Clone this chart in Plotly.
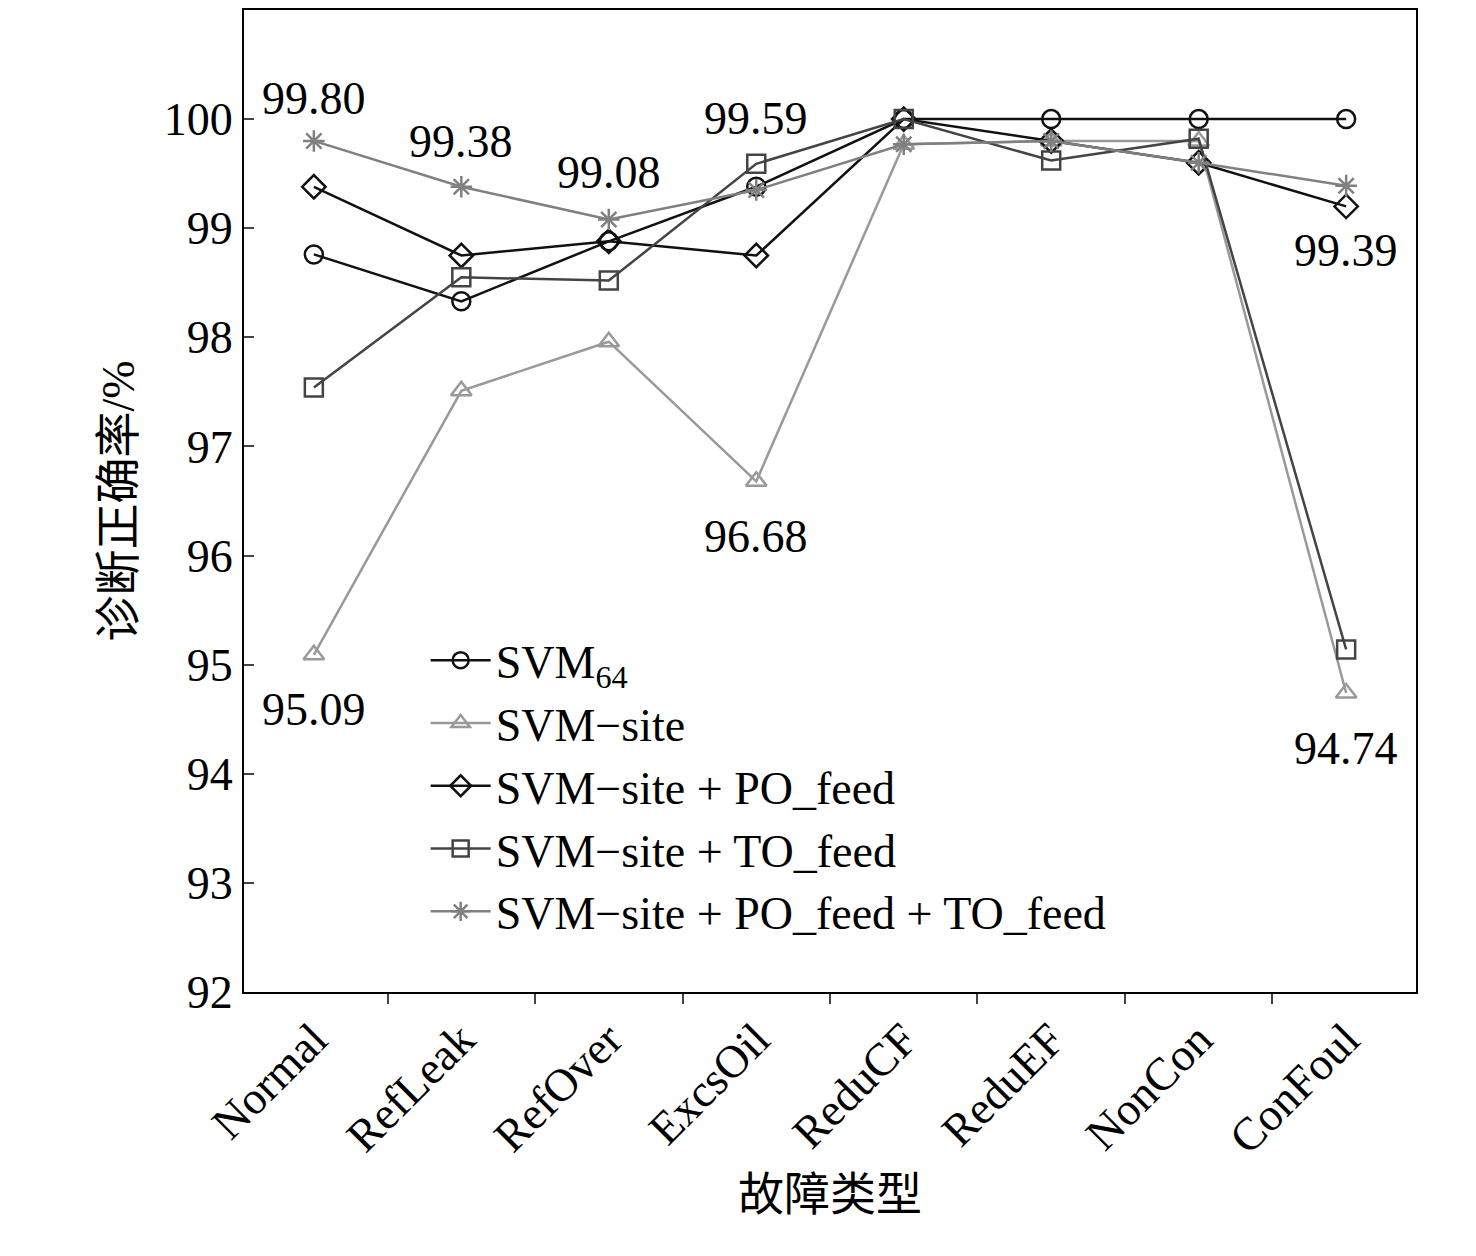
import plotly.graph_objects as go

categories = ["Normal", "RefLeak", "RefOver", "ExcsOil", "ReduCF", "ReduEF", "NonCon", "ConFoul"]
svm64 = [98.76, 98.33, 98.88, 99.38, 100, 100, 100, 100]
svm_site = [95.09, 97.51, 97.96, 96.68, 99.77, 99.80, 99.80, 94.74]
svm_po = [99.38, 98.75, 98.88, 98.75, 100, 99.80, 99.60, 99.20]
svm_to = [97.54, 98.55, 98.52, 99.59, 100, 99.62, 99.82, 95.14]
svm_po_to = [99.80, 99.38, 99.08, 99.35, 99.77, 99.80, 99.60, 99.39]

# labelled points: (category, value, shift in px)
labels = [
    ("Normal", 99.80, 42), ("RefLeak", 99.38, 45), ("RefOver", 99.08, 47),
    ("ExcsOil", 99.59, 45), ("ConFoul", 99.39, -65), ("Normal", 95.09, -55),
    ("ExcsOil", 96.68, -55), ("ConFoul", 94.74, -55),
]

series = [
    ("SVM<sub>64</sub>", svm64, "#111111", "circle-open"),
    ("SVM−site", svm_site, "#999999", "triangle-up-open"),
    ("SVM−site + PO_feed", svm_po, "#111111", "diamond-open"),
    ("SVM−site + TO_feed", svm_to, "#444444", "square-open"),
    ("SVM−site + PO_feed + TO_feed", svm_po_to, "#808080", "asterisk-open"),
]

fig = go.Figure()
for name, vals, col, sym in series:
    fig.add_trace(go.Scatter(
        x=categories, y=vals, name=name, mode="lines+markers",
        line=dict(color=col, width=2.5),
        marker=dict(symbol=sym, size=18, color=col, line=dict(width=2.5, color=col)),
    ))

for cat, val, dy in labels:
    fig.add_annotation(x=cat, y=val, text=f"{val:.2f}", showarrow=False, yshift=dy,
                       font=dict(size=46, color="black"))

font = "Liberation Serif, Noto Sans CJK SC, serif"
fig.update_layout(
    width=1476, height=1256, paper_bgcolor="white", plot_bgcolor="white",
    margin=dict(l=236, r=68, t=0, b=272),
    font=dict(family=font, size=46, color="black"),
    showlegend=True,
    legend=dict(x=0.155, y=0.375, xanchor="left", yanchor="top", bgcolor="rgba(0,0,0,0)",
                font=dict(size=46), tracegroupgap=0, itemwidth=60),
)
fig.update_xaxes(
    showline=True, linecolor="black", linewidth=2, mirror=True, showgrid=False,
    ticks="outside", tickson="boundaries", ticklen=10, tickwidth=2, tickangle=-45,
    tickfont=dict(size=46), title=dict(text="故障类型", font=dict(size=46)),
)
fig.update_yaxes(
    range=[92, 101], tickvals=list(range(92, 101)),
    showline=True, linecolor="black", linewidth=2, mirror=True, showgrid=False,
    ticks="inside", ticklen=10, tickwidth=2, tickfont=dict(size=46),
    title=dict(text="诊断正确率/%", font=dict(size=46)),
)

fig.write_html("out.html")
